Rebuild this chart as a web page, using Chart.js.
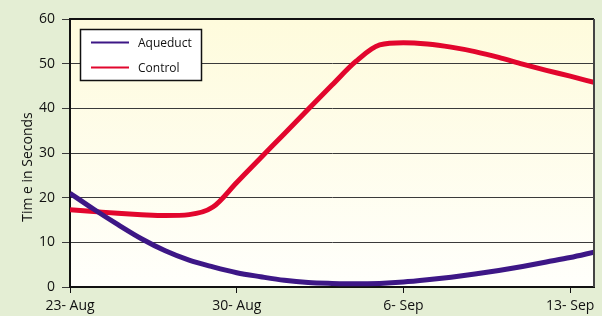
<!DOCTYPE html>
<html>
<head>
<meta charset="utf-8">
<script src="https://cdn.jsdelivr.net/npm/chart.js@4"></script>
<style>
  html, body { margin: 0; padding: 0; background: #e4eed4; }
  #wrap { width: 602px; height: 316px; }
</style>
</head>
<body>
<div id="wrap"><canvas id="timeChart" width="602" height="316"></canvas></div>
<script>
// days since 23 Aug
const days = [0, 1, 2, 3, 4, 5, 6, 7, 8, 9, 10, 11, 12, 13, 14, 15, 16, 17, 18, 19, 20, 21, 22];
const aqueductValues = [21, 17.4, 14, 10.8, 8.1, 6.0, 4.5, 3.2, 2.3, 1.5, 1.0, 0.8, 0.7, 0.8, 1.1, 1.6, 2.2, 2.9, 3.7, 4.6, 5.6, 6.6, 7.8];
const controlValues = [17.3, 16.9, 16.5, 16.2, 16.0, 16.2, 17.9, 23.4, 28.9, 34.3, 39.8, 45.2, 50.5, 54.2, 54.7, 54.4, 53.7, 52.7, 51.4, 49.9, 48.5, 47.2, 45.8];
const xTickDays = [0, 7, 14, 21];
const xTickLabels = ['23- Aug', '30- Aug', '6- Sep', '13- Sep'];
const seriesNames = ['Aqueduct', 'Control'];
const seriesColors = ['#3d1786', '#e2062d'];

const FONT = "'Open Sans', sans-serif";

// plot background + frame + legend + y title
const decorPlugin = {
    id: 'decor',
    beforeDraw(chart) {
        const { ctx, chartArea: a } = chart;
        ctx.save();
        ctx.fillStyle = '#e4eed4';
        ctx.fillRect(0, 0, chart.width, chart.height);
        const g = ctx.createLinearGradient(0, a.top, 0, a.bottom);
        g.addColorStop(0, '#fefbdc');
        g.addColorStop(1, '#fffffb');
        ctx.fillStyle = g;
        ctx.fillRect(a.left, a.top, a.right - a.left, a.bottom - a.top);
        ctx.restore();
    },
    afterDraw(chart) {
        const { ctx, chartArea: a } = chart;
        ctx.save();
        // top + right frame
        ctx.lineWidth = 2;
        ctx.strokeStyle = '#111';
        ctx.beginPath();
        ctx.moveTo(a.left, a.top);
        ctx.lineTo(a.right, a.top);
        ctx.stroke();
        ctx.strokeStyle = '#444';
        ctx.beginPath();
        ctx.moveTo(a.right, a.top);
        ctx.lineTo(a.right, a.bottom);
        ctx.stroke();

        // legend box
        const bx = 80.5, by = 29.5, bw = 121, bh = 51;
        ctx.fillStyle = '#ffffff';
        ctx.fillRect(bx, by, bw, bh);
        ctx.lineWidth = 1.5;
        ctx.strokeStyle = '#111';
        ctx.strokeRect(bx, by, bw, bh);
        ctx.font = '12px ' + FONT;
        ctx.textBaseline = 'middle';
        seriesNames.forEach((name, i) => {
            const ly = 42.5 + i * 25;
            ctx.strokeStyle = seriesColors[i];
            ctx.lineWidth = 2;
            ctx.beginPath();
            ctx.moveTo(91, ly);
            ctx.lineTo(129, ly);
            ctx.stroke();
            ctx.fillStyle = '#111';
            ctx.fillText(name, 138, ly + 1);
        });

        // y axis title
        ctx.translate(28, 167);
        ctx.rotate(-Math.PI / 2);
        ctx.font = '14px ' + FONT;
        ctx.textAlign = 'center';
        ctx.textBaseline = 'middle';
        ctx.fillStyle = '#111';
        ctx.fillText('Tim e in Seconds', 0, 0);
        ctx.restore();
    }
};

const ctx = document.getElementById('timeChart').getContext('2d');
new Chart(ctx, {
    type: 'line',
    data: {
        labels: days,
        datasets: [
            {
                label: seriesNames[0],
                data: aqueductValues,
                borderColor: seriesColors[0],
                borderWidth: 5,
                pointRadius: 0,
                tension: 0.4,
                cubicInterpolationMode: 'monotone'
            },
            {
                label: seriesNames[1],
                data: controlValues,
                borderColor: seriesColors[1],
                borderWidth: 5,
                pointRadius: 0,
                tension: 0.4,
                cubicInterpolationMode: 'monotone'
            }
        ]
    },
    options: {
        responsive: false,
        animation: false,
        layout: { padding: { top: 19, right: 8, left: 0, bottom: 0 } },
        scales: {
            x: {
                type: 'linear',
                min: 0,
                max: 22,
                afterFit: s => { s.height = 29; },
                afterBuildTicks: s => { s.ticks = xTickDays.map(v => ({ value: v })); },
                ticks: {
                    autoSkip: false,
                    maxRotation: 0,
                    padding: 5,
                    color: '#111',
                    font: { family: FONT, size: 14 },
                    callback: v => xTickLabels[xTickDays.indexOf(v)]
                },
                grid: { drawOnChartArea: false, tickLength: 6, color: '#111', lineWidth: 1 },
                border: { display: true, color: '#111', width: 2 }
            },
            y: {
                min: 0,
                max: 60,
                afterFit: s => { s.width = 70; },
                ticks: {
                    stepSize: 10,
                    padding: 7,
                    color: '#111',
                    font: { family: FONT, size: 14 }
                },
                grid: { color: '#3a3a3a', lineWidth: 1, tickLength: 8 },
                border: { display: true, color: '#111', width: 2 }
            }
        },
        plugins: {
            legend: { display: false },
            tooltip: { enabled: false }
        }
    },
    plugins: [decorPlugin]
});
</script>
</body>
</html>
